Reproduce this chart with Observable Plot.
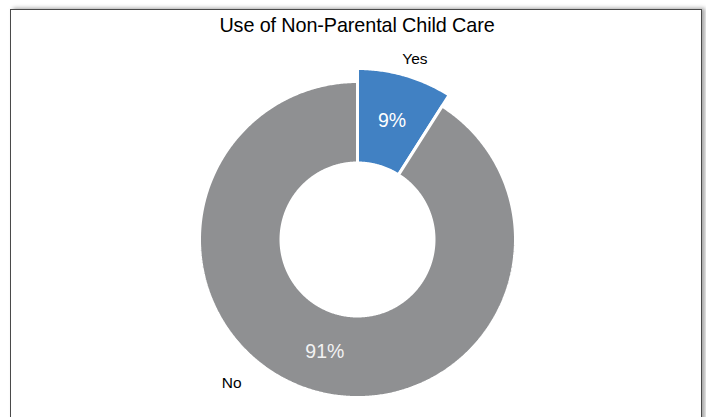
<!DOCTYPE html>
<html>
<head>
<meta charset="utf-8">
<script src="https://cdn.jsdelivr.net/npm/d3@7"></script>
<script src="https://cdn.jsdelivr.net/npm/@observablehq/plot@0.6"></script>
<style>
  html, body { margin: 0; padding: 0; background: #fff; overflow: hidden; width: 706px; height: 417px; }
  #frame { position: absolute; left: 10px; top: 9px; width: 690px; height: 430px;
           border: 1.5px solid #4a4a4a; box-shadow: 3px -1px 4px rgba(0,0,0,0.35); background: #fff; }
  #title { position: absolute; left: 0; top: 14px; width: 714px; text-align: center;
           font-family: "Liberation Sans", Arial, sans-serif; font-size: 19.8px; letter-spacing: -0.1px; color: #000; }
  #chart { position: absolute; left: 0; top: 0; }
</style>
</head>
<body>
<div id="frame"></div>
<div id="title">Use of Non-Parental Child Care</div>
<div id="chart"></div>
<script>
// ---- data ----
const categories = ["Yes", "No"];
const values = [9, 91];
const percentLabels = ["9%", "91%"];
const colors = ["#4181C3", "#8F9092"];

// ---- layout (pixels) ----
const W = 706, H = 417;
const cx = 357, cy = 239;       // donut centre
const unit = 157;               // px per radius unit
const innerR = 76.5 / unit;
const outerR = [171 / unit, 158 / unit];   // Yes slice is pulled out
const pctR = [124 / unit, 117 / unit];
const nameR = [189 / unit, 191 / unit];
const nameAngleShift = [1.5, 25];          // degrees, label placement

// pie angles (clockwise from top, degrees)
const total = d3.sum(values);
let acc = 0;
const slices = categories.map((c, i) => {
  const a0 = acc / total * 360;
  acc += values[i];
  const a1 = acc / total * 360;
  return {cat: c, a0, a1, mid: (a0 + a1) / 2, i};
});

const rad = (d) => d * Math.PI / 180;
const pt = (r, a) => [r * Math.sin(rad(a)), r * Math.cos(rad(a))];

// polygon rows for each annular sector
const rows = [];
for (const s of slices) {
  const n = Math.max(8, Math.ceil((s.a1 - s.a0) / 0.5));
  const poly = [];
  for (let k = 0; k <= n; k++) poly.push(pt(outerR[s.i], s.a0 + (s.a1 - s.a0) * k / n));
  for (let k = n; k >= 0; k--) poly.push(pt(innerR, s.a0 + (s.a1 - s.a0) * k / n));
  poly.push(poly[0]);
  for (const [x, y] of poly) rows.push({cat: s.cat, x, y});
}

const pctRows = slices.map(s => {
  const [x, y] = pt(pctR[s.i], s.mid);
  return {x, y, text: percentLabels[s.i], i: s.i};
});
const nameRows = slices.map(s => {
  const [x, y] = pt(nameR[s.i], s.mid + nameAngleShift[s.i]);
  return {x, y, text: s.cat};
});

const chart = Plot.plot({
  width: W, height: H,
  margin: 0,
  style: {background: "transparent", overflow: "visible"},
  x: {domain: [-cx / unit, (W - cx) / unit], axis: null},
  y: {domain: [-(H - cy) / unit, cy / unit], axis: null},
  color: {domain: categories, range: colors},
  marks: [
    Plot.line(rows, {x: "x", y: "y", z: "cat", fill: "cat", stroke: "white", strokeWidth: 3, strokeLinejoin: "miter"}),
    Plot.text(pctRows, {x: "x", y: "y", text: "text", fill: d => d.i === 0 ? "#ffffff" : "#F2F2F2",
      fontSize: 19.5, fontFamily: "Liberation Sans, Arial, sans-serif"}),
    Plot.text(nameRows, {x: "x", y: "y", text: "text", fill: "#000",
      fontSize: 15.5, fontFamily: "Liberation Sans, Arial, sans-serif"})
  ]
});
document.getElementById("chart").appendChild(chart);
</script>
</body>
</html>
